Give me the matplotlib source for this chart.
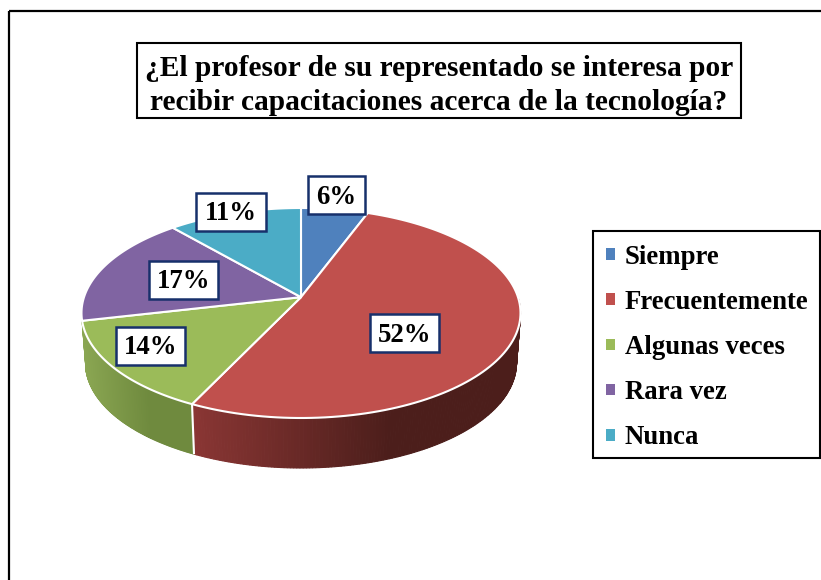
import numpy as np
import matplotlib
matplotlib.use('Agg')
import matplotlib.pyplot as plt
from matplotlib.colors import to_rgb
from matplotlib.patches import Polygon, Rectangle

# Answers per category and the percentages printed on the chart
categories = ['Siempre', 'Frecuentemente', 'Algunas veces', 'Rara vez', 'Nunca']
counts = [2, 18, 5, 6, 4]
percent_labels = ['6%', '52%', '14%', '17%', '11%']
colors = ['#4f81bd', '#c0504d', '#9bbb59', '#8064a2', '#4bacc6']
title_lines = ['¿El profesor de su representado se interesa por',
               'recibir capacitaciones acerca de la tecnología?']

# Label boxes in pixels (left, top, width, height)
label_boxes = [(308, 176, 57, 38), (370, 314, 69, 38), (116, 327, 69, 38),
               (149, 261, 69, 38), (196, 193, 70, 38)]

# Pie geometry in pixels
cx, cy = 301, 313
rx, ry = 219.5, 105
tilt = 0.151
depth = 50
rx_bottom = 215.5

# Side wall colours (left end, right end) for the slices that show one
wall_colors = {1: ('#8a3634', '#4c1e1b'), 2: ('#8aa652', '#6f8a3e')}


def project(angle):
    # Clockwise angle from the top of the circle to the tilted top face,
    # the centre of the circle ends up above the centre of the ellipse
    u = np.sin(angle)
    v = np.cos(angle)
    den = 1 + tilt * v
    return (v + tilt) / den, u * np.sqrt(1 - tilt ** 2) / den


def drawWall(ax, start, end, color_left, color_right):
    vis_start = max(start, np.pi / 2)
    vis_end = min(end, 3 * np.pi / 2)
    edges = np.linspace(vis_start, vis_end, 160)
    vv, uu = project(edges)
    x_top = cx + rx * uu
    y_top = cy - ry * vv
    x_bot = cx + rx_bottom * uu
    y_bot = cy + depth - ry * vv
    left = np.array(to_rgb(color_left))
    right = np.array(to_rgb(color_right))
    span = x_top.max() - x_top.min()
    for i in range(len(edges) - 1):
        # The walls reach their darkest colour before the right end
        t = (0.5 * (x_top[i] + x_top[i + 1]) - x_top.min()) / span
        t = min(t / 0.6, 1)
        col = left + (right - left) * t
        ax.add_patch(Polygon([(x_top[i], y_top[i]), (x_top[i + 1], y_top[i + 1]),
                              (x_bot[i + 1], y_bot[i + 1]), (x_bot[i], y_bot[i])],
                             closed=True, facecolor=col, edgecolor=col, linewidth=0.8))


def plotPie(ax):
    total = sum(counts)
    bounds = np.cumsum([0] + counts) / total * 2 * np.pi

    for i in wall_colors:
        drawWall(ax, bounds[i], bounds[i + 1], wall_colors[i][0], wall_colors[i][1])

    # White line between the two visible walls
    vv, uu = project(bounds[2])
    ax.plot([cx + rx * uu, cx + rx_bottom * uu], [cy - ry * vv, cy + depth - ry * vv],
            color='white', linewidth=1.5, solid_capstyle='butt')

    apex = (cx, cy - ry * tilt)
    for i in range(len(counts)):
        arc = np.linspace(bounds[i], bounds[i + 1], 120)
        vv, uu = project(arc)
        pts = [apex] + list(zip(cx + rx * uu, cy - ry * vv))
        ax.add_patch(Polygon(pts, closed=True, facecolor=colors[i], edgecolor='white',
                             linewidth=1.5, joinstyle='round'))

    for i in range(len(counts)):
        x, y, w, h = label_boxes[i]
        ax.add_patch(Rectangle((x, y), w, h, facecolor='white', edgecolor='#17306b',
                               linewidth=1.8, zorder=5))
        ax.text(x + w / 2, y + h / 2 + 2, percent_labels[i], ha='center', va='center',
                fontsize=19.3, fontweight='bold', zorder=6)


plt.rcParams['font.family'] = ['Liberation Serif', 'DejaVu Serif']

fig = plt.figure(figsize=(8.21, 5.8), dpi=100)
ax = fig.add_axes([0, 0, 1, 1])
ax.set_xlim(0, 821)
ax.set_ylim(580, 0)
ax.axis('off')

# Outer chart frame, it runs off the right and bottom of the picture
ax.plot([9, 9], [580, 11], color='black', linewidth=1.6, solid_capstyle='butt')
ax.plot([9, 821], [11, 11], color='black', linewidth=1.6, solid_capstyle='butt')

plotPie(ax)

ax.text(439, 68, title_lines[0], ha='center', va='center', fontsize=21.15, fontweight='bold')
ax.text(439, 102, title_lines[1], ha='center', va='center', fontsize=21.15, fontweight='bold')
ax.add_patch(Rectangle((137, 43), 604, 75, facecolor='none', edgecolor='black', linewidth=1.5))

# Legend frame is drawn by hand so its size follows the reference
ax.add_patch(Rectangle((593, 231), 227, 227, facecolor='white', edgecolor='black', linewidth=1.5))
handles = [Rectangle((0, 0), 1, 1, facecolor=c, edgecolor='none') for c in colors]
ax.legend(handles, categories, loc='upper left', bbox_to_anchor=(593 / 821, 1 - 232 / 580),
          borderaxespad=0, prop={'size': 19.3, 'weight': 'bold'},
          handlelength=0.35, handleheight=0.3, handletextpad=0.36,
          labelspacing=0.75, borderpad=0.48, frameon=False)

fig.savefig('out.png', dpi=100)
